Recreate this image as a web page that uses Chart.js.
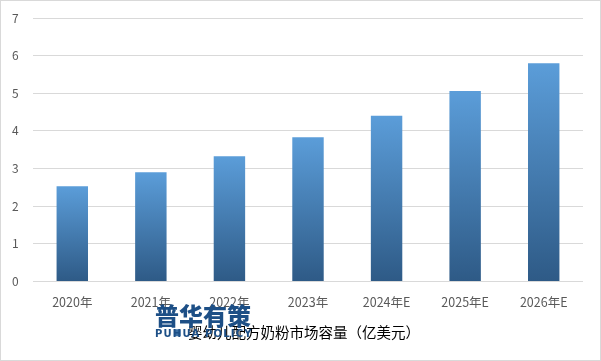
<!DOCTYPE html>
<html>
<head>
<meta charset="utf-8">
<script src="https://cdn.jsdelivr.net/npm/chart.js@4"></script>
<style>
  html, body { margin: 0; padding: 0; background: #fff; }
  #wrap { position: relative; width: 601px; height: 361px; box-sizing: border-box; border: 1px solid #d9d9d9; }
  canvas { position: absolute; left: 0; top: 0; }
  .wm1 { position: absolute; left: 154px; top: 300px; font-family: "Noto Sans CJK SC"; font-weight: 900; font-size: 24px; color: #1d4f86; line-height: 28px; letter-spacing: 0px; }
  .wm2 { position: absolute; left: 154px; top: 327px; font-family: "DejaVu Sans"; font-weight: bold; font-size: 10px; color: #1d4f86; line-height: 12px; letter-spacing: 1.2px; }
</style>
</head>
<body>
<div id="wrap">
  <canvas id="c" width="599" height="359"></canvas>
  <div class="wm1">普华有策</div>
  <div class="wm2">PUHUA POLICY</div>
</div>
<script>
const categories = ["2020年", "2021年", "2022年", "2023年", "2024年E", "2025年E", "2026年E"];
const seriesName = "婴幼儿配方奶粉市场容量（亿美元）";
const values = [2.53, 2.90, 3.33, 3.83, 4.40, 5.06, 5.80];
const yTicks = [0, 1, 2, 3, 4, 5, 6, 7];

new Chart(document.getElementById("c"), {
  type: "bar",
  data: {
    labels: categories,
    datasets: [{
      label: seriesName,
      data: values,
      backgroundColor: (c) => {
        const ch = c.chart;
        const ys = ch.scales && ch.scales.y;
        if (!ch.chartArea || !ys || c.raw === undefined) return "#4a86c0";
        const top = ys.getPixelForValue(c.raw);
        const bottom = ys.getPixelForValue(0);
        if (!isFinite(top) || !isFinite(bottom) || top === bottom) return "#4a86c0";
        const g = ch.ctx.createLinearGradient(0, top, 0, bottom);
        g.addColorStop(0, "#5b9dd9");
        g.addColorStop(1, "#2e5a86");
        return g;
      },
      borderWidth: 0,
      categoryPercentage: 1,
      barPercentage: 0.40
    }]
  },
  options: {
    responsive: false,
    animation: false,
    devicePixelRatio: 1,
    layout: { padding: { left: 11, right: 11, top: 17, bottom: 10 } },
    plugins: {
      tooltip: { enabled: false },
      legend: {
        position: "bottom",
        labels: {
          font: { family: "Noto Sans CJK SC", size: 14.5 },
          color: "#595959",
          boxWidth: 7, boxHeight: 7,
          padding: 3,
          generateLabels: (chart) => [{
            text: seriesName + "\u3000",
            fillStyle: "#3b6fa3",
            strokeStyle: "#3b6fa3",
            lineWidth: 0,
            datasetIndex: 0
          }]
        }
      }
    },
    scales: {
      x: {
        grid: { display: false, drawTicks: false },
        border: { display: false },
        ticks: { font: { family: "Noto Sans CJK SC", size: 12.5 }, color: "#595959", padding: 13, maxRotation: 0 }
      },
      y: {
        min: 0, max: 7,
        afterBuildTicks: (s) => { s.ticks = yTicks.map(v => ({ value: v })); },
        afterFit: (s) => { s.width = 21; },
        grid: { color: "#d9d9d9", drawTicks: false },
        border: { display: false },
        ticks: { font: { family: "Noto Sans CJK SC", size: 12 }, color: "#595959", padding: 0, crossAlign: "far" }
      },
      yRight: {
        position: "right",
        display: true,
        min: 0, max: 7,
        afterFit: (s) => { s.width = 6; },
        grid: { display: false, drawTicks: false },
        border: { display: false },
        ticks: { display: false }
      }
    }
  }
});
</script>
</body>
</html>
